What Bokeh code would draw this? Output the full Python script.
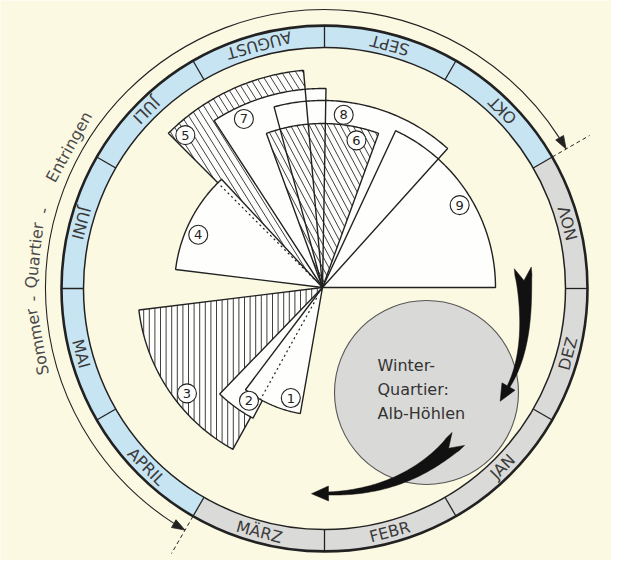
import numpy as np
from bokeh.plotting import figure
from bokeh.models import Range1d
from bokeh.embed import file_html
from bokeh.resources import INLINE
from bokeh.core.properties import value

# ---------------- data ----------------
months = ["SEPT", "OKT", "NOV", "DEZ", "JAN", "FEBR", "MÄRZ", "APRIL", "MAI", "JUNI", "JULI", "AUGUST"]
month_is_summer = [True, True, False, False, False, False, False, True, True, True, True, True]

# sectors: angular span (degrees, counter-clockwise from 3 o'clock) and length
wedge_labels = ["5", "7", "8", "9", "6", "4", "3", "2", "1"]
wedge_from = [95, 89, 48, 0, 70, 133, 187, 226, 233]
wedge_to = [135, 123, 105, 65, 110, 173, 241, 242, 260]
wedge_len = [218, 199, 187, 173, 164, 148, 185, 148, 128]
wedge_pattern = ["back", "", "", "", "back2", "", "vert", "", ""]
wedge_label_at = [132, 115, 83, 31, 77, 157, 218, 237, 254]

winter_lines = ["Winter-", "Quartier:", "Alb-Höhlen"]
summer_words = ["Sommer", "-", "Quartier", "-", "Entringen"]
summer_word_at = [190.5, 182.0, 173.5, 164.5, 151.0]

# ---------------- geometry / style ----------------
H = 568
def Y(y):
    return H - y

RX, RY = 332, Y(296)      # month ring centre
WX, WY = 330, Y(295)      # sector centre
R_OUT, R_IN = 263, 241
BG = "#fcf9e3"
BLUE = "#c7e4f3"
GREY = "#dadad8"
INK = "#222222"
FONT = value("DejaVu Sans")

def pol(cx, cy, r, deg):
    a = np.radians(deg)
    return cx + r * np.cos(a), cy + r * np.sin(a)

def sector_poly(cx, cy, r, a0, a1, n=80):
    t = np.radians(np.linspace(a0, a1, n))
    xs = np.concatenate([[cx], cx + r * np.cos(t)])
    ys = np.concatenate([[cy], cy + r * np.sin(t)])
    return xs, ys

def hatch(cx, cy, r, a0, a1, ang_deg, spacing):
    px, py = sector_poly(cx, cy, r, a0, a1)
    d = np.radians(ang_deg)
    ux, uy = np.cos(d), np.sin(d)
    nx, ny = -uy, ux
    proj = px * nx + py * ny
    sx, sy = [], []
    start = np.ceil(proj.min() / spacing) * spacing
    m = len(px)
    for c in np.arange(start, proj.max(), spacing):
        pts = []
        for i in range(m):
            j = (i + 1) % m
            si, sj = proj[i] - c, proj[j] - c
            if (si < 0) != (sj < 0):
                t = si / (si - sj)
                pts.append((px[i] + t * (px[j] - px[i]), py[i] + t * (py[j] - py[i])))
        if len(pts) >= 2:
            pts.sort(key=lambda q: q[0] * ux + q[1] * uy)
            sx.append([pts[0][0], pts[-1][0]])
            sy.append([pts[0][1], pts[-1][1]])
    return sx, sy

HATCH = {"back": (122, 6.0), "back2": (118, 5.5), "vert": (90, 5.6)}

def swoosh(p0, p1, p2, w0, w1, head_len, head_w, n=60):
    p0, p1, p2 = (np.array([p[0], Y(p[1])], float) for p in (p0, p1, p2))
    t = np.linspace(0, 1, n)[:, None]
    pts = (1 - t) ** 2 * p0 + 2 * (1 - t) * t * p1 + t ** 2 * p2
    d = 2 * (1 - t) * (p1 - p0) + 2 * t * (p2 - p1)
    d = d / np.linalg.norm(d, axis=1)[:, None]
    nr = np.column_stack([-d[:, 1], d[:, 0]])
    w = (w0 + (w1 - w0) * t ** 0.7) / 2
    left = pts + nr * w
    right = pts - nr * w
    tailL = left[0] - d[0] * w0 * 0.45
    tailR = right[0] - d[0] * w0 * 0.45
    notch = pts[0] + d[0] * w0 * 0.3
    end, de, ne = pts[-1], d[-1], nr[-1]
    hl = end + ne * head_w / 2
    hr = end - ne * head_w / 2
    tip = end + de * head_len
    poly = np.vstack([[notch], [tailL], left, [hl], [tip], [hr], right[::-1], [tailR]])
    return list(poly[:, 0]), list(poly[:, 1])

# ---------------- figure ----------------
p = figure(width=611, height=560, x_range=Range1d(8, 619), y_range=Range1d(0, 560),
           output_backend="svg", toolbar_location=None, min_border=0)
p.background_fill_color = BG
p.border_fill_color = BG
p.outline_line_color = None
p.axis.visible = False
p.grid.visible = False

# month ring
starts = [np.radians(90 - 30 * (i + 1)) for i in range(12)]
ends = [np.radians(90 - 30 * i) for i in range(12)]
cols = [BLUE if s else GREY for s in month_is_summer]
p.annular_wedge(x=RX, y=RY, inner_radius=R_IN, outer_radius=R_OUT, start_angle=starts,
                end_angle=ends, fill_color=cols, line_color=None)
p.circle(x=RX, y=RY, radius=R_OUT, fill_color=None, line_color=INK, line_width=2.6)
p.circle(x=RX, y=RY, radius=R_IN, fill_color=None, line_color=INK, line_width=1.5)
bx0, by0, bx1, by1 = [], [], [], []
for i in range(12):
    a = 90 - 30 * i
    x0, y0 = pol(RX, RY, R_IN, a)
    x1, y1 = pol(RX, RY, R_OUT, a)
    bx0.append(x0); by0.append(y0); bx1.append(x1); by1.append(y1)
p.segment(x0=bx0, y0=by0, x1=bx1, y1=by1, line_color=INK, line_width=1.3)

mx, my, mang = [], [], []
for i in range(12):
    a = 75 - 30 * i
    x, y = pol(RX, RY, (R_IN + R_OUT) / 2, a)
    mx.append(x); my.append(y); mang.append(np.radians(a + 90))
p.text(x=mx, y=my, text=months, angle=mang, text_align="center", text_baseline="middle",
       text_font=FONT, text_font_size="16px", text_color="#3a3a3a")

# summer-quarter arc with arrows
R_ARC = 279
HL, HW = 13, 9
da = np.degrees(HL / R_ARC)
p.arc(x=RX, y=RY, radius=R_ARC, start_angle=np.radians(30 + da), end_angle=np.radians(240 - da),
      direction="anticlock", line_color=INK, line_width=1.1)
hx, hy = [], []
for tip_deg, sgn in ((30, -1), (240, 1)):
    th = np.radians(tip_deg)
    tip = np.array(pol(RX, RY, R_ARC, tip_deg))
    tang = sgn * np.array([-np.sin(th), np.cos(th)])
    rad = np.array([np.cos(th), np.sin(th)])
    base = tip - tang * HL
    c1 = base + rad * HW / 2
    c2 = base - rad * HW / 2
    hx.append([tip[0], c1[0], c2[0]]); hy.append([tip[1], c1[1], c2[1]])
p.patches(xs=hx, ys=hy, fill_color=INK, line_color=INK, line_width=0.8)
tx0, ty0, tx1, ty1 = [], [], [], []
for a in (30, 240):
    x0, y0 = pol(RX, RY, R_OUT, a)
    x1, y1 = pol(RX, RY, 306, a)
    tx0.append(x0); ty0.append(y0); tx1.append(x1); ty1.append(y1)
p.segment(x0=tx0, y0=ty0, x1=tx1, y1=ty1, line_color=INK, line_width=1.0, line_dash="4 3")

sx, sy, sang = [], [], []
for a in summer_word_at:
    x, y = pol(RX, RY, 292, a)
    sx.append(x); sy.append(y); sang.append(np.radians(a - 90))
p.text(x=sx, y=sy, text=summer_words, angle=sang, text_align="center", text_baseline="middle",
       text_font=FONT, text_font_size="16px", text_color="#4a4a4a")

# ---------------- sectors ----------------
def draw_fill(k):
    p.wedge(x=WX, y=WY, radius=wedge_len[k], start_angle=np.radians(wedge_from[k]),
            end_angle=np.radians(wedge_to[k]), fill_color="#fefefc", line_color=None)
    pat = wedge_pattern[k]
    if pat:
        ang, sp = HATCH[pat]
        hxs, hys = hatch(WX, WY, wedge_len[k], wedge_from[k], wedge_to[k], ang, sp)
        p.multi_line(xs=hxs, ys=hys, line_color="#2a2a2a", line_width=0.9)

def draw_outline(k):
    xs, ys = sector_poly(WX, WY, wedge_len[k], wedge_from[k], wedge_to[k])
    p.patch(x=list(xs), y=list(ys), fill_color=None, line_color=INK, line_width=1.4)

top_group = [0, 1, 2, 3, 4]
for k in top_group:
    draw_fill(k)
for k in top_group:
    draw_outline(k)
draw_fill(5); draw_outline(5)
draw_fill(6); draw_outline(6)
draw_fill(7); draw_outline(7)
draw_fill(8); draw_outline(8)

# hidden edges, dotted
dx0, dy0, dx1, dy1 = [], [], [], []
for a, r0, r1 in ((wedge_to[0], 12, wedge_len[5] - 4), (wedge_to[6], 12, wedge_len[8])):
    x0, y0 = pol(WX, WY, r0, a)
    x1, y1 = pol(WX, WY, r1, a)
    dx0.append(x0); dy0.append(y0); dx1.append(x1); dy1.append(y1)
p.segment(x0=dx0, y0=dy0, x1=dx1, y1=dy1, line_color=INK, line_width=1.2, line_dash="2 3")

# circled numbers
lx, ly = [], []
for k in range(len(wedge_labels)):
    x, y = pol(WX, WY, wedge_len[k] - 13, wedge_label_at[k])
    lx.append(x); ly.append(y)
p.circle(x=lx, y=ly, radius=9.5, fill_color="#fefefc", line_color=INK, line_width=1.1)
p.text(x=lx, y=ly, text=wedge_labels, text_align="center", text_baseline="middle",
       text_font=FONT, text_font_size="13px", text_color=INK)

# ---------------- winter quarter ----------------
p.circle(x=434, y=Y(400), radius=92, fill_color="#d9d9d7", line_color="#555555", line_width=1.1)
p.text(x=[385, 385, 385], y=[Y(373), Y(397), Y(421)], text=winter_lines, text_align="left",
       text_baseline="middle", text_font=FONT, text_font_size="16px", text_color="#333333")

ax, ay = swoosh((531, 283), (538, 355), (516, 394), 17, 3, 17, 15)
bx, by = swoosh((460, 452), (410, 500), (336, 501), 18, 3, 17, 15)
p.patches(xs=[ax, bx], ys=[ay, by], fill_color="#111111", line_color="#111111", line_width=0.5)

open("out.html", "w").write(file_html(p, INLINE))
